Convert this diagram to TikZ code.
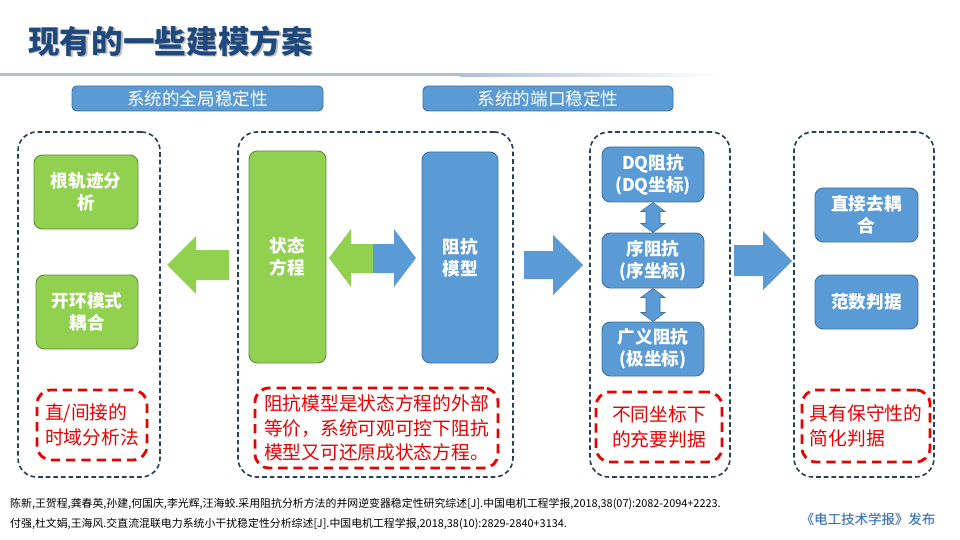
\documentclass[tikz,border=0pt]{standalone}
\usepackage{fontspec}
\setmainfont{Noto Sans CJK SC}
\usetikzlibrary{positioning,fit,calc}
\definecolor{titleblue}{RGB}{31,73,125}
\definecolor{boxblue}{RGB}{91,155,213}
\definecolor{blueedge}{RGB}{65,113,156}
\definecolor{boxgreen}{RGB}{146,208,80}
\definecolor{greenedge}{RGB}{100,140,55}
\definecolor{frameblue}{RGB}{38,64,96}
\definecolor{notered}{RGB}{235,0,0}
\definecolor{ruleblue}{RGB}{172,192,216}
\definecolor{pubblue}{RGB}{46,110,180}

\tikzset{
  frame/.style={draw=frameblue, line width=1.4pt, dash pattern=on 4pt off 2.5pt,
    rounded corners=16pt, inner sep=0pt},
  bluebox/.style={draw=blueedge, fill=boxblue, line width=0.8pt, rounded corners=7pt,
    inner sep=0pt},
  greenbox/.style={bluebox, draw=greenedge, fill=boxgreen},
  header/.style={bluebox, rounded corners=4pt},
  notebox/.style={draw=notered, line width=2.4pt, dash pattern=on 8pt off 5pt,
    rounded corners=12pt, inner sep=0pt},
  boxtext/.style={inner sep=0pt, text=white, align=center,
    font=\bfseries\fontsize{15}{19}\selectfont},
  headtext/.style={inner sep=0pt, text=white, font=\fontsize{15}{18}\selectfont},
  notetext/.style={inner sep=0pt, text=notered, align=left,
    font=\fontsize{16}{21}\selectfont},
  greenarrow/.style={fill=boxgreen},
  bluearrow/.style={fill=boxblue},
  smallarrow/.style={fill=boxblue, draw=blueedge, line width=0.5pt},
  ref/.style={anchor=west, inner sep=0pt, font=\fontsize{9.3}{11}\selectfont},
}

\begin{document}
\begin{tikzpicture}[x=0.03cm, y=-0.03cm]
  \useasboundingbox (0,0) rectangle (960,540);

  % title and rule
  \node[anchor=west, inner sep=0pt, text=black!25, font=\bfseries\fontsize{27}{30}\selectfont]
    at (29.5,42.5) {现有的一些建模方案};
  \node[anchor=west, inner sep=0pt, text=titleblue, font=\bfseries\fontsize{27}{30}\selectfont]
    (title) at (28,41) {现有的一些建模方案};
  \fill[ruleblue] (0,73.5) rectangle (460,76.5);
  \shade[left color=ruleblue, right color=white] (460,73.5) rectangle (720,76.5);

  % headers
  \node[header, fit={(72,86) (323,111)}, label={[headtext]center:系统的全局稳定性}] (global) {};
  \node[header, fit={(423,86) (673,111)}, label={[headtext]center:系统的端口稳定性}] (port) {};

  % dashed frames
  \node[frame, fit={(18,132) (160,477)}] (frameA) {};
  \node[frame, fit={(238,132) (513,477)}] (frameB) {};
  \node[frame, fit={(590,132) (730,477)}] (frameC) {};
  \node[frame, fit={(794,132) (934,477)}] (frameD) {};

  % time domain
  \node[greenbox, fit={(34,155) (138,229)},
    label={[boxtext]center:{根轨迹分\\析}}] (rlocus) {};
  \node[greenbox, fit={(36,275) (138,349)},
    label={[boxtext]center:{开环模式\\耦合}}] (openloop) {};
  \node[notebox, fit={(37,390) (147,460)},
    label={[notetext]center:{直/间接的\\时域分析法}}] (noteA) {};

  % state space and impedance
  \node[greenbox, fit={(249,151) (326,363)},
    label={[boxtext]center:{状态\\方程}}] (state) {};
  \node[bluebox, fit={(422,152) (498,363)},
    label={[boxtext]center:{阻抗\\模型}}] (imped) {};
  \node[notebox, fit={(255,388) (498,468)},
    label={[notetext]center:{阻抗模型是状态方程的外部\\等价，系统可观可控下阻抗\\模型又可还原成状态方程。}}] (noteB) {};

  % coordinate frames
  \node[bluebox, fit={(602,147) (704,202)},
    label={[boxtext]center:{DQ阻抗\\(DQ坐标)}}] (dq) {};
  \node[bluebox, fit={(602,233) (704,288)},
    label={[boxtext]center:{序阻抗\\(序坐标)}}] (seq) {};
  \node[bluebox, fit={(602,322) (704,376)},
    label={[boxtext]center:{广义阻抗\\(极坐标)}}] (polar) {};
  \node[notebox, fit={(596,392) (722,462)},
    label={[notetext]center:{不同坐标下\\的充要判据}}] (noteC) {};

  % simplified criteria
  \node[bluebox, fit={(815,188) (918,242)},
    label={[boxtext]center:{直接去耦\\合}}] (decouple) {};
  \node[bluebox, fit={(815,275) (918,329)},
    label={[boxtext]center:范数判据}] (norm) {};
  \node[notebox, fit={(802,390) (930,462)},
    label={[notetext]center:{具有保守性的\\简化判据}}] (noteD) {};

  % big arrows
  \path[greenarrow] (229,250) -- (196,250) -- (196,236) -- (167,265) -- (196,294)
    -- (196,280) -- (229,280) -- cycle;
  \path[greenarrow] (373,244) -- (351,244) -- (351,229) -- (329,258) -- (351,287)
    -- (351,273) -- (373,273) -- cycle;
  \path[bluearrow] (373,244) -- (394,244) -- (394,229) -- (416,258) -- (394,287)
    -- (394,273) -- (373,273) -- cycle;
  \path[bluearrow] (524,251) -- (553,251) -- (553,235) -- (583,265) -- (553,295)
    -- (553,279) -- (524,279) -- cycle;
  \path[bluearrow] (734,245) -- (763,245) -- (763,231) -- (792,261) -- (763,290)
    -- (763,276) -- (734,276) -- cycle;

  % small double arrows
  \path[smallarrow] (dq.south) -- ($(dq.south)+(12,9)$) -- ($(dq.south)+(7,9)$)
    -- ($(seq.north)+(7,-9)$) -- ($(seq.north)+(12,-9)$) -- (seq.north)
    -- ($(seq.north)+(-12,-9)$) -- ($(seq.north)+(-7,-9)$)
    -- ($(dq.south)+(-7,9)$) -- ($(dq.south)+(-12,9)$) -- cycle;
  \path[smallarrow] (seq.south) -- ($(seq.south)+(12,9)$) -- ($(seq.south)+(7,9)$)
    -- ($(polar.north)+(7,-9)$) -- ($(polar.north)+(12,-9)$) -- (polar.north)
    -- ($(polar.north)+(-12,-9)$) -- ($(polar.north)+(-7,-9)$)
    -- ($(seq.south)+(-7,9)$) -- ($(seq.south)+(-12,9)$) -- cycle;

  % references
  \node[ref] (refA) at (10,504)
    {陈新,王贺程,龚春英,孙建,何国庆,李光辉,汪海蛟.采用阻抗分析方法的并网逆变器稳定性研究综述[J].中国电机工程学报,2018,38(07):2082-2094+2223.};
  \node[ref] (refB) at (10,524)
    {付强,杜文娟,王海风.交直流混联电力系统小干扰稳定性分析综述[J].中国电机工程学报,2018,38(10):2829-2840+3134.};
  \node[text=black!20, inner sep=0pt, font=\fontsize{11.5}{14}\selectfont]
    at (868.8,519.8) {《电工技术学报》发布};
  \node[text=pubblue, inner sep=0pt, font=\fontsize{11.5}{14}\selectfont]
    (pub) at (868,519) {《电工技术学报》发布};
\end{tikzpicture}
\end{document}
